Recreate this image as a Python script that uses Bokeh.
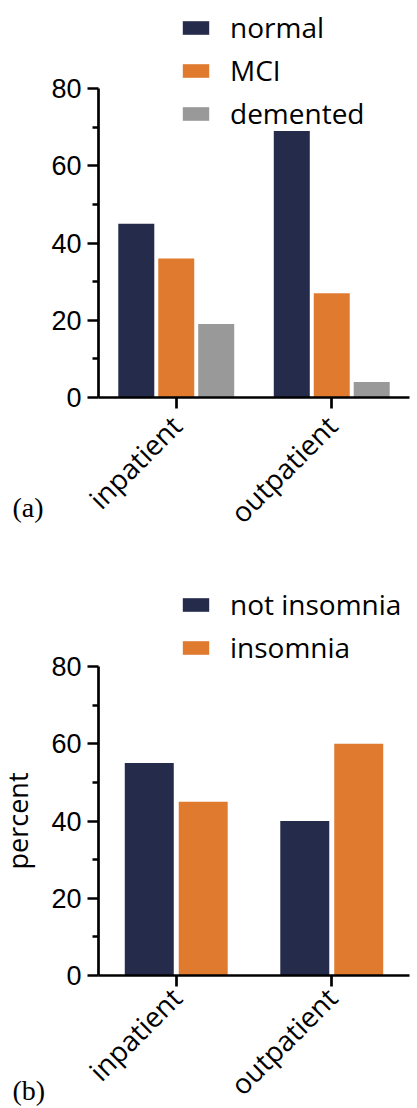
from math import pi
from bokeh.plotting import figure
from bokeh.layouts import column
from bokeh.models import (ColumnDataSource, Range1d, Legend, LegendItem, Label,
                          FixedTicker)
from bokeh.transform import dodge
from bokeh.embed import file_html
from bokeh.resources import INLINE

# ---- data ----
groups = ["inpatient", "outpatient"]
cog_series = ["normal", "MCI", "demented"]
normal = [45, 69]
mci = [36, 27]
demented = [19, 4]

ins_series = ["not insomnia", "insomnia"]
not_insomnia = [55, 40]
insomnia = [45, 60]

y_ticks = [0, 20, 40, 60, 80]
y_minor = [10, 30, 50, 70]
panel_tags = ["(a)", "(b)"]

NAVY = "#242b4b"
ORANGE = "#e07a2f"
GRAY = "#999999"

NUM_FONT = "Liberation Sans"
TXT_FONT = "Open Sans"
TAG_FONT = "Liberation Serif"

# ---- page geometry (px) ----
W = 417
AX_LEFT = 98       # y-axis position
AX_RIGHT = 409     # end of x-axis
PX_X = (AX_RIGHT - AX_LEFT) / len(groups)   # px per category slot
PX_Y = 309 / 80.0                           # px per percent

centers = [i + 0.5 for i in range(len(groups))]
label_map = {c: g for c, g in zip(centers, groups)}


def make_fig(height, zero_y, label_standoff):
    """zero_y: distance (px) from top of this figure to the value 0."""
    x_lo = -AX_LEFT / PX_X
    x_hi = len(groups) + (W - AX_RIGHT) / PX_X
    y_hi = zero_y / PX_Y
    y_lo = -(height - zero_y) / PX_Y
    p = figure(x_range=Range1d(x_lo, x_hi), y_range=Range1d(y_lo, y_hi),
               width=W, height=height, min_border=0, min_border_left=0,
               min_border_right=0, min_border_top=0, min_border_bottom=0,
               toolbar_location=None, output_backend="svg")
    p.xgrid.visible = False
    p.ygrid.visible = False
    p.outline_line_color = None
    p.background_fill_color = None
    p.border_fill_color = None
    for ax in (p.xaxis[0], p.yaxis[0]):
        ax.fixed_location = 0
        ax.axis_line_width = 2.7
        ax.axis_line_color = "black"
        ax.major_tick_line_width = 2.7
        ax.minor_tick_line_width = 2.7
        ax.major_tick_line_color = "black"
        ax.minor_tick_line_color = "black"
        ax.major_tick_in = 0
        ax.minor_tick_in = 0
        ax.major_tick_out = 11
        ax.minor_tick_out = 6
    p.yaxis.bounds = (0, 80)
    p.yaxis.ticker = FixedTicker(ticks=y_ticks, minor_ticks=y_minor)
    p.yaxis.major_label_text_font = NUM_FONT
    p.yaxis.major_label_text_font_size = "27px"
    p.yaxis.major_label_text_color = "black"
    p.yaxis.major_label_standoff = 6
    p.xaxis.bounds = (0, len(groups))
    p.xaxis.ticker = FixedTicker(ticks=centers, minor_ticks=[])
    p.xaxis.major_label_overrides = label_map
    p.xaxis.major_label_orientation = pi / 4
    p.xaxis.major_label_text_font = TXT_FONT
    p.xaxis.major_label_text_font_size = "28px"
    p.xaxis.major_label_text_color = "black"
    p.xaxis.major_label_standoff = label_standoff
    return p


def make_legend(p, items, x, y):
    leg = Legend(items=items, location=(x, y), orientation="vertical",
                 glyph_width=33, glyph_height=17, label_standoff=18,
                 label_text_font=TXT_FONT, label_text_font_size="28px",
                 label_text_color="black", spacing=5, padding=0, margin=0,
                 border_line_color=None, background_fill_alpha=0,
                 label_text_baseline="middle")
    p.add_layout(leg)


def tag(p, text, x, y_from_bottom):
    p.add_layout(Label(x=x, y=y_from_bottom, x_units="screen", y_units="screen",
                       text=text, text_font=TAG_FONT, text_font_size="28px",
                       text_baseline="middle", text_color="black"))


# ---- panel (a): page y 0 .. 545, zero at 397 ----
A_H = 545
pa = make_fig(A_H, 397, 12)
src_a = ColumnDataSource(dict(x=centers, normal=normal, mci=mci, demented=demented))
step_a = 0.257
wa = 0.2315
ra = pa.vbar(x=dodge("x", -step_a), top="normal", width=wa, source=src_a,
             color=NAVY, line_color=None)
rb = pa.vbar(x=dodge("x", 0), top="mci", width=wa, source=src_a,
             color=ORANGE, line_color=None)
rc = pa.vbar(x=dodge("x", step_a), top="demented", width=wa, source=src_a,
             color=GRAY, line_color=None)
make_legend(pa, [LegendItem(label=cog_series[0], renderers=[ra]),
                 LegendItem(label=cog_series[1], renderers=[rb]),
                 LegendItem(label=cog_series[2], renderers=[rc])], 179, A_H - 132)
tag(pa, panel_tags[0], 12, A_H - 507)

# ---- panel (b): page y 545 .. 1108, zero at 975 ----
B_H = 1108 - A_H
pb = make_fig(B_H, 975 - A_H, 6)
src_b = ColumnDataSource(dict(x=centers, ni=not_insomnia, ins=insomnia))
step_b = 0.347
wb = 0.315
rd = pb.vbar(x=dodge("x", -step_b / 2), top="ni", width=wb, source=src_b,
             color=NAVY, line_color=None)
re_ = pb.vbar(x=dodge("x", step_b / 2), top="ins", width=wb, source=src_b,
              color=ORANGE, line_color=None)
pb.yaxis.axis_label = "percent"
pb.yaxis.axis_label_text_font = TXT_FONT
pb.yaxis.axis_label_text_font_size = "27px"
pb.yaxis.axis_label_text_font_style = "normal"
pb.yaxis.axis_label_text_color = "black"
pb.yaxis.axis_label_standoff = 12
make_legend(pb, [LegendItem(label=ins_series[0], renderers=[rd]),
                 LegendItem(label=ins_series[1], renderers=[re_])], 179, 1108 - 666)
tag(pb, panel_tags[1], 12, 1108 - 1090)

layout = column(pa, pb, spacing=0)
open("out.html", "w").write(file_html(layout, INLINE))
